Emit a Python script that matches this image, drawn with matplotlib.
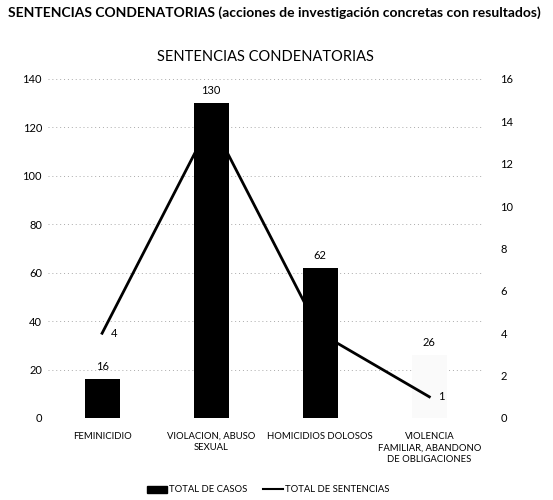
import numpy as np
import matplotlib.pyplot as plt

plt.rcParams['font.family'] = ['Lato', 'DejaVu Sans']

categorias = ['FEMINICIDIO', 'VIOLACION, ABUSO\nSEXUAL', 'HOMICIDIOS DOLOSOS',
              'VIOLENCIA\nFAMILIAR, ABANDONO\nDE OBLIGACIONES']
total_casos = [16, 130, 62, 26]
total_sentencias = [4, 14, 4, 1]
colores_barra = ['black', 'black', 'black', '#fafafa']

fig = plt.figure(figsize=(5.53, 5.0), dpi=100)
ax = fig.add_axes([0.086, 0.164, 0.789, 0.678])
ax2 = ax.twinx()

x = np.arange(len(categorias))
ax.bar(x, total_casos, width=0.32, color=colores_barra, zorder=2)
ax.set_ylim(0, 140)
ax.set_yticks(range(0, 141, 20))
ax.set_xlim(-0.5, len(categorias) - 0.5)
ax.set_xticks(x)
ax.set_xticklabels(categorias, fontsize=6.8, va='top', linespacing=1.35)
ax.tick_params(axis='x', length=0, pad=10)
ax.tick_params(axis='y', length=0, labelsize=8, pad=4)
ax.yaxis.grid(True, color='#aaaaaa', linestyle=(0, (1, 3)), linewidth=0.7)
ax.set_axisbelow(True)
for s in ax.spines.values():
    s.set_visible(False)

for xi, v in zip(x, total_casos):
    ax.text(xi, v + 3, str(v), ha='center', va='bottom', fontsize=8)

ax2.plot(x, total_sentencias, color='black', linewidth=2, zorder=3)
ax2.set_ylim(0, 16)
ax2.set_yticks(range(0, 17, 2))
ax2.tick_params(axis='y', length=0, labelsize=8, pad=12)
for s in ax2.spines.values():
    s.set_visible(False)
for xi, v in zip(x, total_sentencias):
    if xi in (0, 3):
        ax2.text(xi + 0.08, v, str(v), ha='left', va='center', fontsize=8)

fig.text(0.015, 0.975, 'SENTENCIAS CONDENATORIAS (acciones de investigación concretas con resultados)',
         fontsize=10, fontweight='bold', ha='left', va='center')
fig.text(0.48, 0.886, 'SENTENCIAS CONDENATORIAS', fontsize=10.5, ha='center', va='center')

h1 = plt.Rectangle((0, 0), 1, 1, color='black')
h2 = plt.Line2D([0], [0], color='black', linewidth=1.5)
fig.legend([h1, h2], ['TOTAL DE CASOS', 'TOTAL DE SENTENCIAS'], loc='center',
           bbox_to_anchor=(0.485, 0.02), ncol=2, frameon=False, fontsize=6.8,
           handlelength=2.2, handletextpad=0.2, columnspacing=1.6)

fig.savefig('out.png', dpi=100)
